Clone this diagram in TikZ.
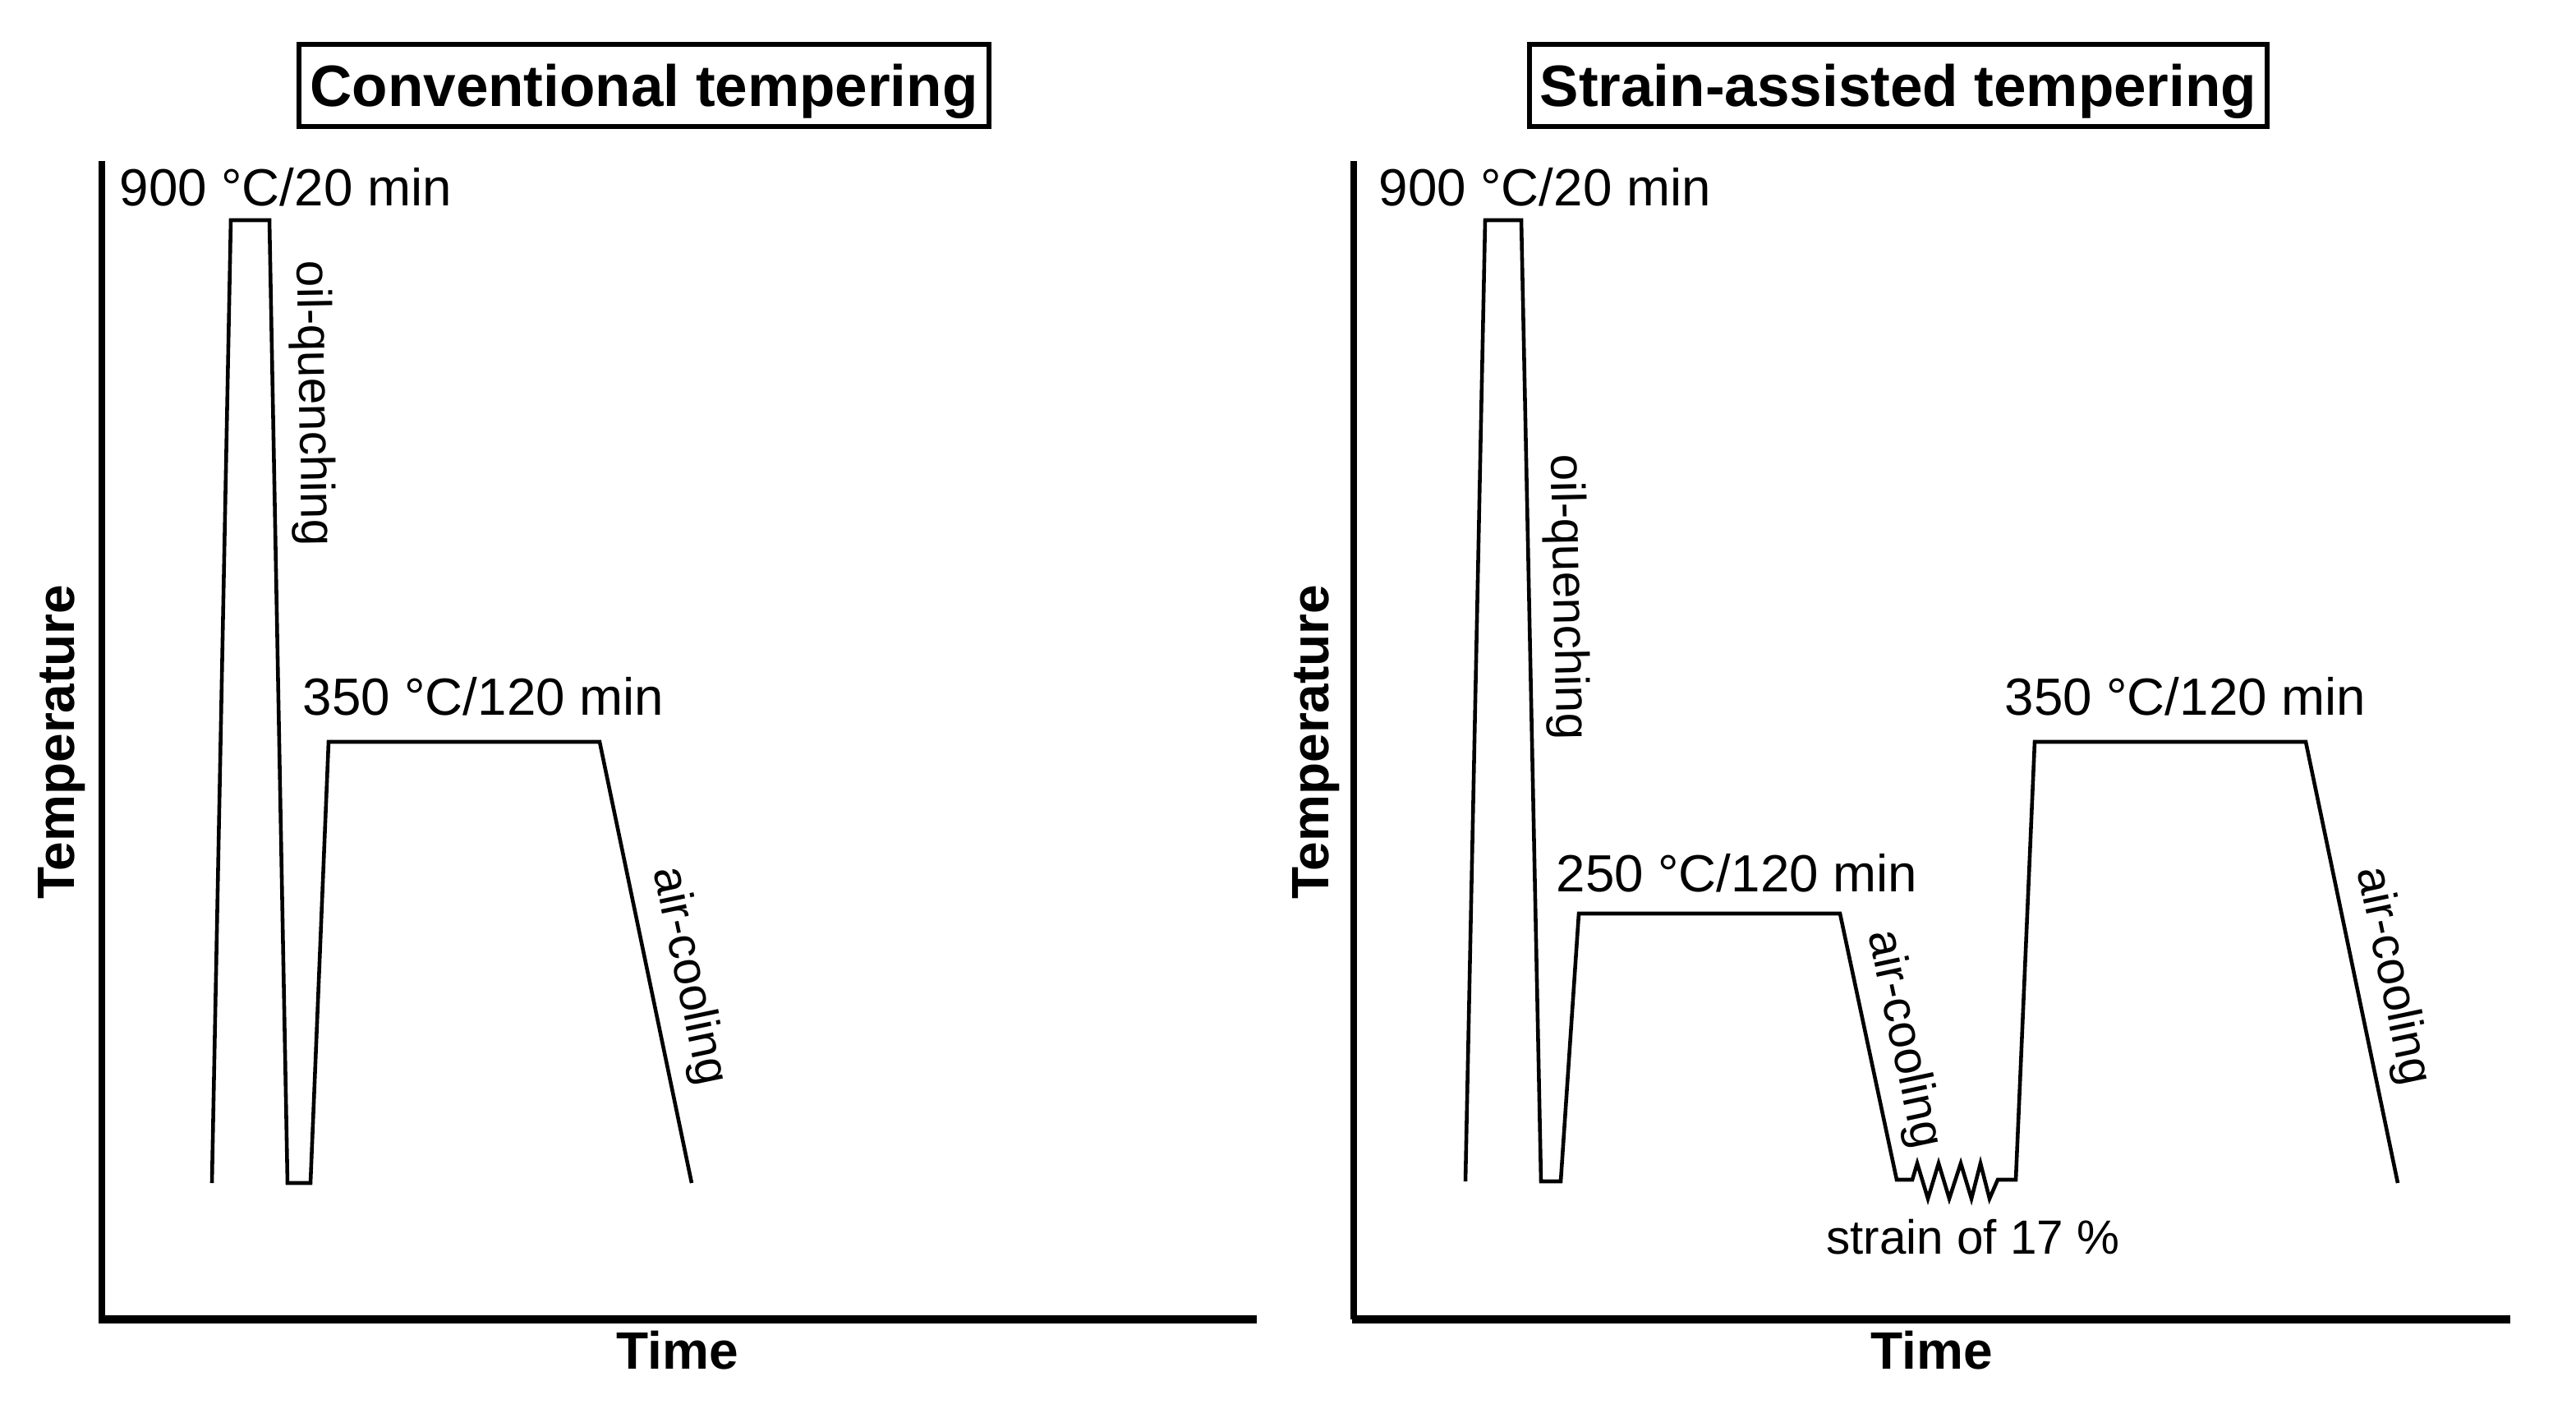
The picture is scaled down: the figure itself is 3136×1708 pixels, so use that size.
\documentclass[tikz,border=0pt]{standalone}
\usepackage{fontspec}
\setmainfont{Liberation Sans}
\begin{document}
\begin{tikzpicture}[x=0.01cm,y=-0.01cm,
  curve/.style={line width=1.3pt, line join=miter},
  vaxis/.style={line width=2.1pt},
  haxis/.style={line width=2.7pt},
  titlebox/.style={draw, line width=1.7pt, inner sep=0pt, minimum height=1.0cm, text depth=0pt, font=\bfseries\fontsize{20.2}{24}\selectfont},
  axislbl/.style={inner sep=0pt, font=\bfseries\fontsize{18.2}{22}\selectfont},
  templbl/.style={inner sep=0pt, anchor=west, font=\fontsize{18.1}{22}\selectfont},
  proclbl/.style={inner sep=0pt, font=\fontsize{16.6}{20}\selectfont}]
\useasboundingbox (0,0) rectangle (3136,1708);

% ---------- Left panel ----------
\node[titlebox, minimum width=8.40cm] (t1) at (784,104) {Conventional tempering};
\draw[vaxis] (124,196) -- (124,1606);
\draw[haxis] (120,1606) -- (1530,1606);
\node[axislbl] (time1) at (825,1644) {Time};
\node[axislbl, rotate=90] (temp1) at (75,903) {Temperature};

\draw[curve] (258,1440) -- (281,268) -- (328,268) -- (350,1440) -- (378,1440)
  -- (400,903) -- (730,903) -- (842,1440);

\node[templbl] (l900) at (145,228) {900 °C/20 min};
\node[templbl] (l350) at (368,848) {350 °C/120 min};
\node[proclbl, rotate=-89] (loq) at (380,491) {oil-quenching};
\node[proclbl, rotate=-78.2] (lac) at (838,1188) {air-cooling};

% ---------- Right panel ----------
\node[titlebox, minimum width=8.98cm] (t2) at (2311,104) {Strain-assisted tempering};
\draw[vaxis] (1648,196) -- (1648,1606);
\draw[haxis] (1646,1606) -- (3056,1606);
\node[axislbl] (time2) at (2352,1644) {Time};
\node[axislbl, rotate=90] (temp2) at (1602,903) {Temperature};

\draw[curve] (1784,1438) -- (1808,268) -- (1852,268) -- (1876,1438) -- (1900,1438)
  -- (1922,1112) -- (2240,1112) -- (2309,1436) -- (2328,1436)
  -- (2334,1416) -- (2347,1459) -- (2360,1416) -- (2373,1459)
  -- (2387,1416) -- (2400,1459) -- (2411,1416) -- (2422,1459)
  -- (2432,1436) -- (2454,1436)
  -- (2477,903) -- (2807,903) -- (2919,1440);

\node[templbl] (r900) at (1678,228) {900 °C/20 min};
\node[templbl] (r250) at (1894,1063) {250 °C/120 min};
\node[templbl] (r350) at (2440,848) {350 °C/120 min};
\node[proclbl, rotate=-88.8] (roq) at (1907,727) {oil-quenching};
\node[proclbl, rotate=-78] (rac1) at (2317,1265) {air-cooling};
\node[proclbl, rotate=-78.2] (rac2) at (2912,1188) {air-cooling};
\node[proclbl] (strain) at (2402,1506) {strain of 17 \%};
\end{tikzpicture}
\end{document}
